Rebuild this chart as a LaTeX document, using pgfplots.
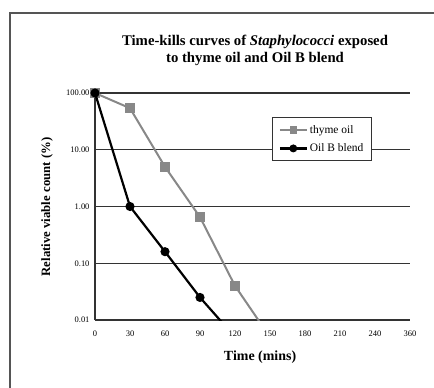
\documentclass[border=0pt]{standalone}
\usepackage{pgfplots}
\pgfplotsset{compat=1.18}
\usepackage{fontspec}
\setmainfont{Liberation Serif}
\definecolor{thyme}{HTML}{888888}
\definecolor{frame}{HTML}{555555}
\definecolor{gridc}{HTML}{333333}
\begin{document}
\begin{tikzpicture}[x=1bp,y=1bp]
\draw[frame, line width=2bp] (10,-400) -- (10,-13) -- (450,-13);
\begin{axis}[
  at={(95bp,-320bp)}, anchor=south west,
  scale only axis, width=315bp, height=227bp,
  xmin=0, xmax=9,
  ymode=log, ymin=0.01, ymax=100,
  xtick={0,1,2,3,4,5,6,7,8,9},
  xticklabels={0,30,60,90,120,150,180,210,240,360},
  ytick={0.01,0.1,1,10,100},
  yticklabels={0.01,0.10,1.00,10.00,100.00},
  log basis y=10,
  axis lines*=left,
  axis line style={-, gridc, line width=1.6bp},
  ymajorgrids,
  major grid style={gridc, line width=1.4bp},
  tick style={draw=none},
  minor tick num=0,
  ticklabel style={font=\fontsize{8.5}{9}\selectfont},
  xticklabel style={yshift=-7bp},
  yticklabel style={xshift=-2bp},
  clip mode=individual,
  title={\textbf{Time-kills curves of \textit{Staphylococci} exposed}\\\textbf{to thyme oil and Oil B blend}},
  title style={at={(axis description cs:0.508,1.16)}, anchor=center, align=center, font=\fontsize{14.8}{17}\selectfont},
  xlabel={\textbf{Time (mins)}},
  xlabel style={at={(axis description cs:0.524,-0.164)}, anchor=center, font=\fontsize{14}{15}\selectfont},
  ylabel={\textbf{Relative viable count (\%)}},
  ylabel style={at={(axis description cs:-0.152,0.498)}, anchor=center, font=\fontsize{12.8}{14}\selectfont},
  legend style={at={(rel axis cs:0.562,0.894)}, anchor=north west, draw=gridc, line width=1.4bp, fill=white,
    font=\fontsize{11.5}{13}\selectfont, inner xsep=6bp, inner ysep=5.5bp, row sep=5bp},
  legend image code/.code={\draw[mark repeat=2,mark phase=2] plot coordinates {(0bp,0bp) (13.5bp,0bp) (27bp,0bp)};},
  legend image post style={mark size=2.8bp},
  legend cell align=left,
]
\addplot[thyme, line width=2bp, mark=square*, mark size=4bp, mark options={fill=thyme, draw=thyme}]
  coordinates {(0,100) (1,54) (2,5) (3,0.65) (4,0.04)};
\addlegendentry{thyme oil\hspace{28bp}}
\addplot[black, line width=2.2bp, mark=*, mark size=3.4bp, mark options={fill=black}]
  coordinates {(0,100) (1,1) (2,0.16) (3,0.025)};
\addlegendentry{Oil B blend}
\begin{scope}
\clip (rel axis cs:0,0) rectangle (rel axis cs:1,1);
\addplot[thyme, line width=2bp, forget plot] coordinates {(4,0.04) (5,0.005)};
\addplot[black, line width=2.2bp, forget plot] coordinates {(3,0.025) (4,0.005)};
\end{scope}
\end{axis}
\pgfresetboundingbox
\useasboundingbox (0,0) rectangle (434,-387);
\end{tikzpicture}
\end{document}
